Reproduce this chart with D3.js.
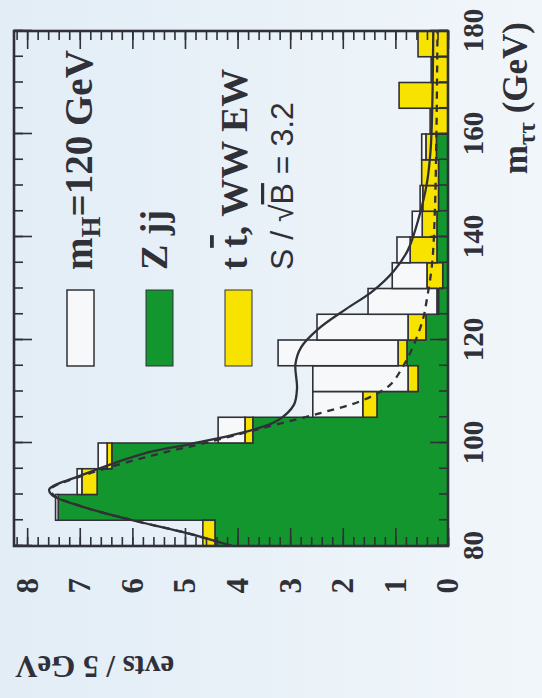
<!DOCTYPE html>
<html><head><meta charset="utf-8">
<script src="https://cdn.jsdelivr.net/npm/d3@7"></script>
<style>body{margin:0;background:#eaf2f8}svg{display:block}</style>
</head><body>
<script>
// ---- data ----
const massBins = [80,85,90,95,100,105,110,115,120,125,130,135,140,145,150,155,160,165,170,175];
const binWidth = 5;
const zjjEvents  = [4.43,7.41,6.67,6.39,3.71,1.35,0.57,0.78,0.42,0.18,0.10,0.21,0.21,0.18,0.18,0.22,0,0,0,0];
const ttwwEvents = [0.23,0.00,0.29,0.09,0.15,0.27,0.19,0.17,0.34,0.03,0.30,0.51,0.28,0.30,0.32,0.20,0.34,0.93,0.32,0.57];
const higgsEvents= [0.00,0.05,0.09,0.17,0.51,0.95,1.81,2.28,1.73,1.31,0.66,0.25,0.19,0.05,0.00,0.08,0,0,0,0];
const totalFitMass = [80,82.5,85,87.6,89.9,91,93.8,97.9,99.8,101.9,104.3,107.4,110.7,115.3,118.6,122.1,126,129.5,133.4,137.5,143.9,150.5,157,165,180];
const totalFitVal  = [4.1,4.96,6.0,6.94,7.53,7.58,6.95,5.8,4.9,3.95,3.25,2.93,2.87,2.9,2.79,2.47,1.94,1.43,1.03,0.76,0.55,0.4,0.33,0.3,0.28];
const bkgFitMass = [80,82.5,85,87.6,89.9,91,93.8,97.9,99.8,101.9,103.5,105.8,108.3,111.3,114.8,118.6,123.9,128,135,145,160,180];
const bkgFitVal  = [4.1,4.96,6.0,6.94,7.5,7.55,6.9,5.5,4.7,3.9,3.3,2.43,1.62,1.1,0.86,0.67,0.48,0.4,0.3,0.25,0.22,0.2];
const xTickLabels = [80,100,120,140,160,180];
const yTickLabels = [0,1,2,3,4,5,6,7,8];
const legendLabels = ["H","Z jj","tt","SB"];

// ---- layout ----
const W = 515, H = 434;
const ink = "#303038", green = "#14962f", yellow = "#f7e200", sigFill = "#f6f8fa";
const serif = "'Liberation Serif','DejaVu Serif',serif";
const sans = "'Liberation Sans','DejaVu Sans',sans-serif";

const svg = d3.select("body").append("svg").attr("width",542).attr("height",698);
const defs = svg.append("defs");
const grad = defs.append("linearGradient").attr("id","bg").attr("x1","0").attr("x2","1").attr("y1","0").attr("y2","0");
grad.append("stop").attr("offset","0").attr("stop-color","#e2edf6");
grad.append("stop").attr("offset","1").attr("stop-color","#f1f6fa");
svg.append("rect").attr("width",542).attr("height",698).attr("fill","url(#bg)");
defs.append("clipPath").attr("id","clip").append("rect").attr("width",W).attr("height",H);

const g = svg.append("g").attr("transform","translate(14,546) rotate(-90)");
const x = d3.scaleLinear().domain([80,180]).range([0,W]);
const y = d3.scaleLinear().domain([0,8.25]).range([H,0]);

const bins = massBins.map((m,i)=>{
  const a = zjjEvents[i], b = a + ttwwEvents[i], c = b + higgsEvents[i];
  return {lo:m, hi:m+binWidth, zjj:a, tt:b, tot:c};
});

const plot = g.append("g").attr("clip-path","url(#clip)");

// green step area
const stepPts = [];
bins.forEach(d=>{ stepPts.push([d.lo,d.zjj]); stepPts.push([d.hi,d.zjj]); });
plot.append("path").datum(stepPts)
  .attr("d", d3.area().x(d=>x(d[0])).y0(y(0)).y1(d=>y(d[1])))
  .attr("fill", green);
plot.append("path").datum([[80,0],...stepPts,[180,0]])
  .attr("d", d3.line().x(d=>x(d[0])).y(d=>y(d[1])))
  .attr("fill","none").attr("stroke",ink).attr("stroke-width",1.4);

// yellow boxes
plot.selectAll("rect.tt").data(bins.filter(d=>d.tt>d.zjj)).join("rect").attr("class","tt")
  .attr("x",d=>x(d.lo)).attr("width",d=>x(d.hi)-x(d.lo))
  .attr("y",d=>y(d.tt)).attr("height",d=>y(d.zjj)-y(d.tt))
  .attr("fill",yellow).attr("stroke",ink).attr("stroke-width",1.6);
// signal boxes
plot.selectAll("rect.sig").data(bins.filter(d=>d.tot>d.tt)).join("rect").attr("class","sig")
  .attr("x",d=>x(d.lo)).attr("width",d=>x(d.hi)-x(d.lo))
  .attr("y",d=>y(d.tot)).attr("height",d=>y(d.tt)-y(d.tot))
  .attr("fill",sigFill).attr("stroke",ink).attr("stroke-width",1.6);

// fitted curves
const curve = d3.line().x(d=>x(d[0])).y(d=>y(d[1])).curve(d3.curveCatmullRom.alpha(0.5));
plot.append("path").datum(bkgFitMass.map((m,i)=>[m,bkgFitVal[i]])).attr("d",curve)
  .attr("fill","none").attr("stroke",ink).attr("stroke-width",2.3).attr("stroke-dasharray","7,6");
plot.append("path").datum(totalFitMass.map((m,i)=>[m,totalFitVal[i]])).attr("d",curve)
  .attr("fill","none").attr("stroke",ink).attr("stroke-width",2.3);

// axes (ticks pointing inward)
const yMinor = d3.range(0,8.21,0.2);
const xMinor = d3.range(80,180.1,5);
function styleAxis(sel){
  sel.select(".domain").remove();
  sel.selectAll("line").attr("stroke",ink).attr("stroke-width",1.6);
  sel.selectAll("text").attr("fill",ink).attr("font-family",serif).attr("font-weight","bold");
}
g.append("g").call(d3.axisLeft(y).tickValues(yMinor).tickSize(-9).tickFormat("")).call(styleAxis);
g.append("g").call(d3.axisLeft(y).tickValues(yTickLabels).tickSize(-18).tickPadding(32).tickFormat(d3.format("d")))
  .call(styleAxis).selectAll("text").attr("font-size",31);
g.append("g").attr("transform",`translate(${W},0)`).call(d3.axisRight(y).tickValues(yMinor).tickSize(-9).tickFormat("")).call(styleAxis);
g.append("g").attr("transform",`translate(${W},0)`).call(d3.axisRight(y).tickValues(yTickLabels).tickSize(-18).tickFormat("")).call(styleAxis);
g.append("g").attr("transform",`translate(0,${H})`).call(d3.axisBottom(x).tickValues(xMinor).tickSize(-9).tickFormat("")).call(styleAxis);
g.append("g").attr("transform",`translate(0,${H})`).call(d3.axisBottom(x).tickValues(xTickLabels).tickSize(-18).tickPadding(14).tickFormat(d3.format("d")))
  .call(styleAxis).selectAll("text").attr("font-size",29);
g.append("g").call(d3.axisTop(x).tickValues(xMinor).tickSize(-9).tickFormat("")).call(styleAxis);
g.append("g").call(d3.axisTop(x).tickValues(xTickLabels).tickSize(-18).tickFormat("")).call(styleAxis);

// frame
g.append("rect").attr("width",W).attr("height",H).attr("fill","none").attr("stroke",ink).attr("stroke-width",2.6);

// axis titles
const xt = g.append("text").attr("x",524).attr("y",H+79).attr("text-anchor","end")
  .attr("font-family",serif).attr("font-weight","bold").attr("font-size",35).attr("fill",ink);
xt.append("tspan").text("m");
xt.append("tspan").attr("dy",8).attr("font-size",25).text("ττ");
xt.append("tspan").attr("dy",-8).text(" (GeV)");
g.append("text").attr("transform","translate(-110,1) rotate(-90)").attr("text-anchor","end")
  .attr("font-family",serif).attr("font-weight","bold").attr("font-size",31).attr("fill",ink)
  .text("evts / 5 GeV");

// legend
const leg = g.append("g");
leg.append("rect").attr("x",180).attr("y",53).attr("width",76).attr("height",27).attr("fill",sigFill).attr("stroke",ink).attr("stroke-width",1.5);
leg.append("rect").attr("x",180).attr("y",132).attr("width",76).attr("height",27).attr("fill",green).attr("stroke",ink).attr("stroke-width",1);
leg.append("rect").attr("x",180).attr("y",211).attr("width",76).attr("height",27).attr("fill",yellow).attr("stroke",ink).attr("stroke-width",1);
const t1 = leg.append("text").attr("x",276).attr("y",78).attr("font-family",serif).attr("font-weight","bold").attr("font-size",39).attr("fill",ink);
t1.append("tspan").text("m");
t1.append("tspan").attr("dy",8).attr("font-size",27).text(legendLabels[0]);
t1.append("tspan").attr("dy",-8).text("=120 GeV");
leg.append("text").attr("x",276).attr("y",153).attr("font-family",serif).attr("font-weight","bold").attr("font-size",38).attr("fill",ink).text(legendLabels[1]);
const t3 = leg.append("text").attr("x",276).attr("y",233).attr("font-family",serif).attr("font-weight","bold").attr("font-size",38).attr("fill",ink);
t3.append("tspan").text("t ");
t3.append("tspan").attr("text-decoration","overline").text("t");
t3.append("tspan").text(", WW EW");
const t4 = leg.append("text").attr("x",276).attr("y",279).attr("font-family",sans).attr("font-size",32).attr("fill",ink);
t4.append("tspan").text("S / √");
t4.append("tspan").attr("text-decoration","overline").text("B");
t4.append("tspan").text(" = 3.2");
</script>
</body></html>
